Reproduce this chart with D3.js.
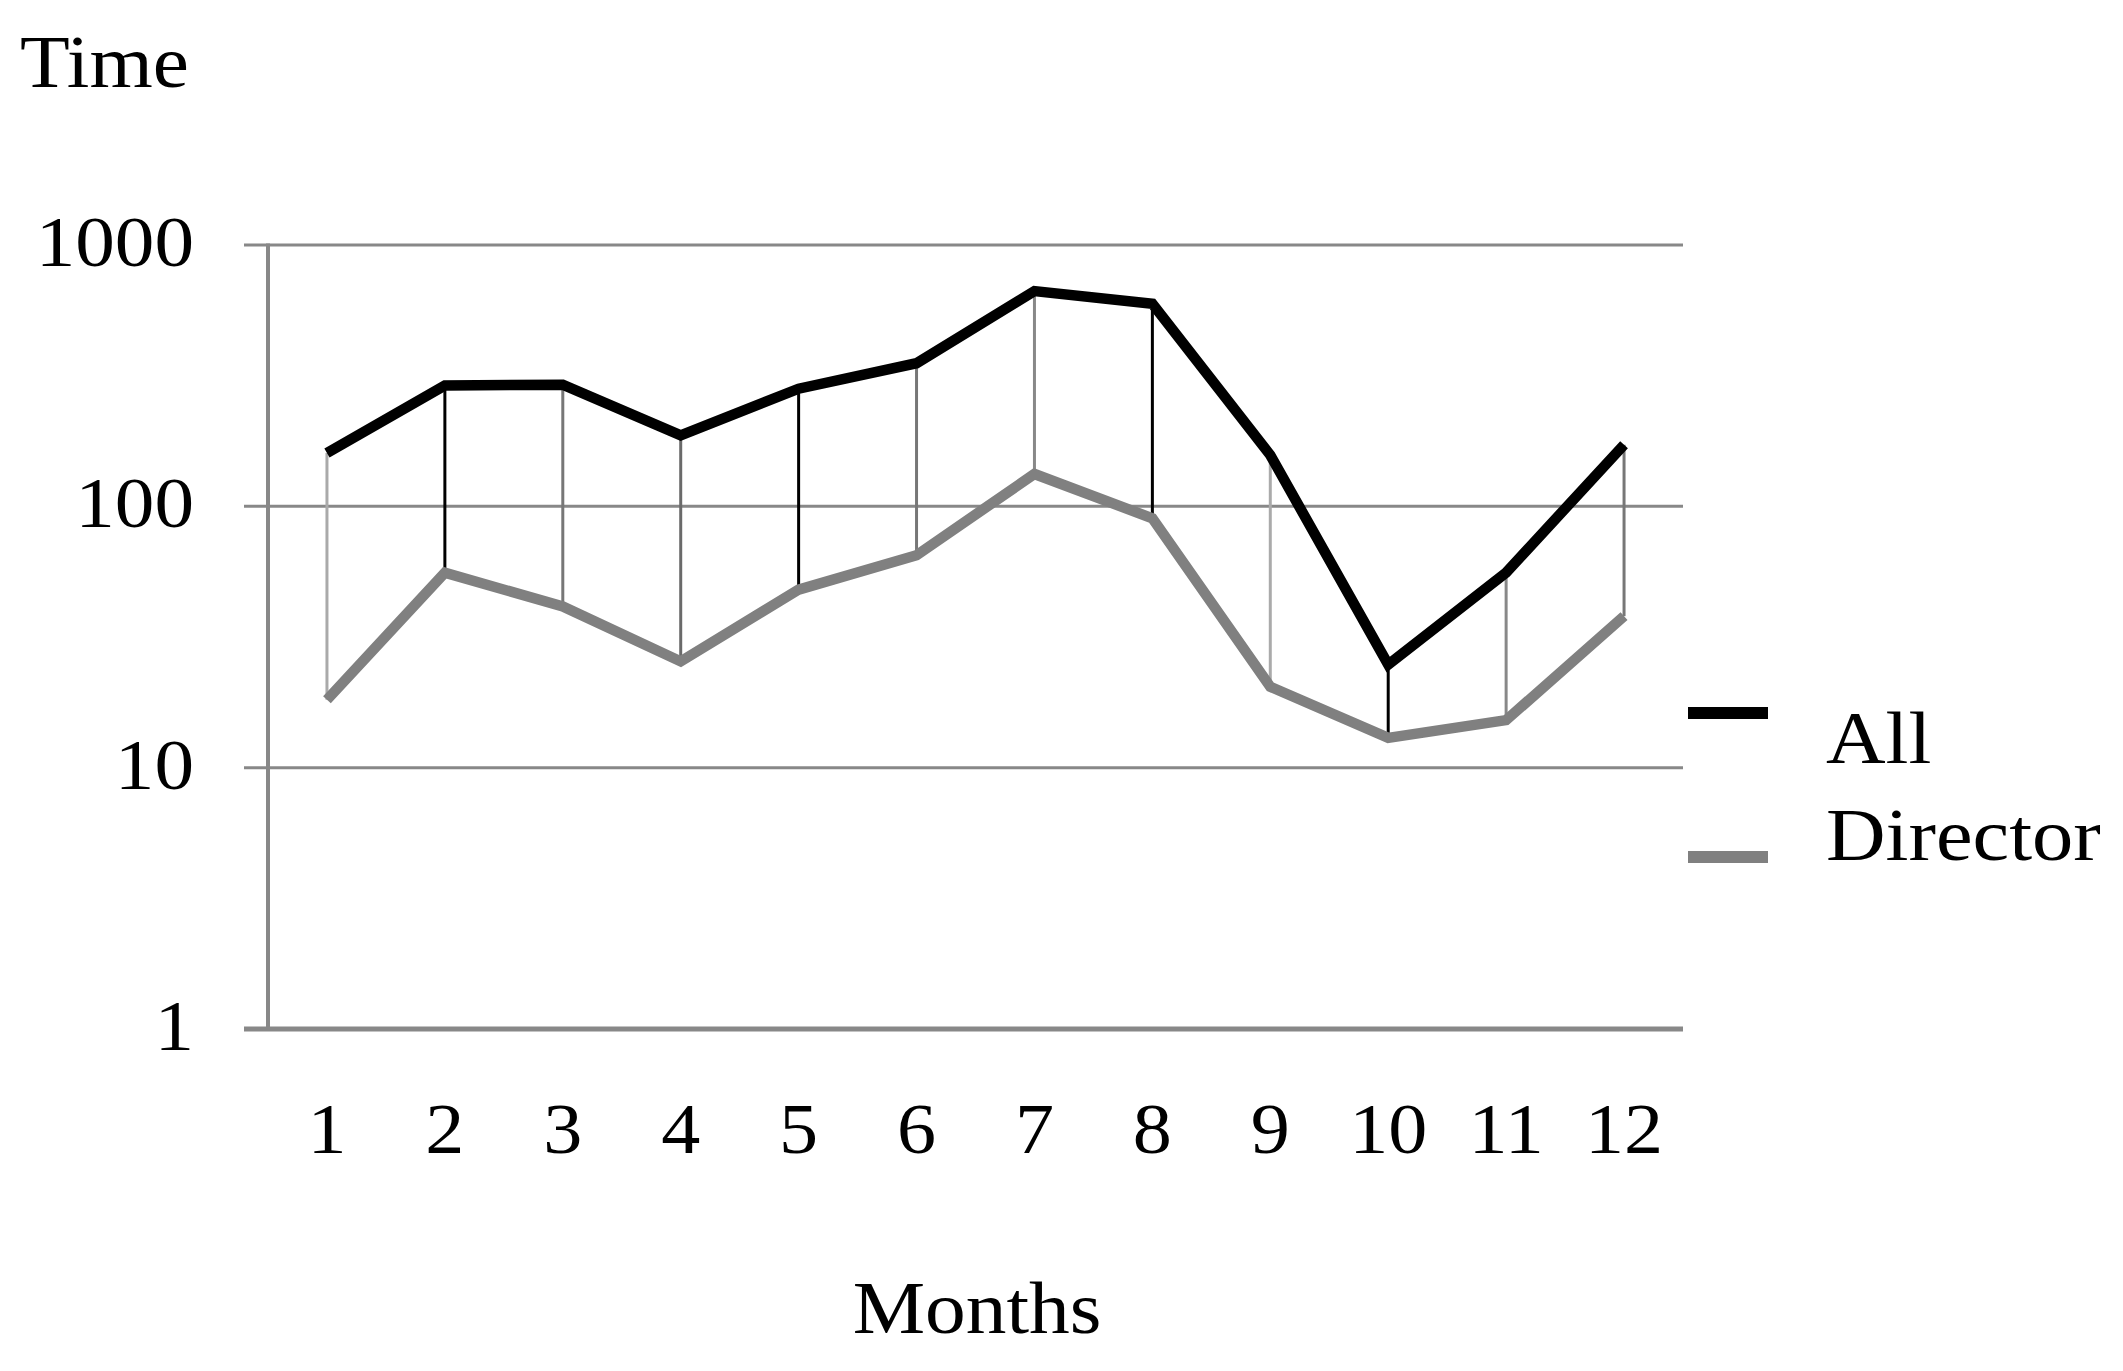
<!DOCTYPE html>
<html>
<head>
<meta charset="utf-8">
<script src="https://cdn.jsdelivr.net/npm/d3@7"></script>
<style>
  html, body { margin: 0; padding: 0; background: #fff; }
  svg { display: block; }
  text { font-family: "Liberation Serif", "Times New Roman", serif; fill: #000; }
</style>
</head>
<body>
<script>
// ---- data ----
const months = [1, 2, 3, 4, 5, 6, 7, 8, 9, 10, 11, 12];
const allValues = [160, 290, 292, 187, 282, 353, 666, 596, 157, 24.8, 55.8, 172];
const directorValues = [18.2, 55.7, 41.4, 25.5, 48, 65, 133, 90, 20.4, 13, 15.2, 38];
const yTicks = [1, 10, 100, 1000];
const seriesNames = ["All", "Director"];
// style of the high-low connector per month (anti-aliased look of original)
const dropColors = ["#aaa", "#000", "#777", "#6a6a6a", "#000", "#777", "#888", "#000", "#aaa", "#000", "#888", "#777"];

const W = 2123, H = 1371;
const SX = 1.1; // horizontal stretch of the original's typeface
const svg = d3.select("body").append("svg").attr("width", W).attr("height", H);

const plotLeft = 268, plotRight = 1683, plotTop = 245, plotBottom = 1029;
const x = d3.scaleBand().domain(months).range([plotLeft, plotRight]);
const y = d3.scaleLog().domain([1, 1000]).range([plotBottom, plotTop]);
const cx = m => x(m) + x.bandwidth() / 2;
const place = (tx, ty) => `translate(${tx},${ty}) scale(${SX},1)`;

// gridlines
svg.append("g").selectAll("line").data(yTicks.filter(t => t > 1)).join("line")
  .attr("x1", 244).attr("x2", plotRight)
  .attr("y1", d => y(d)).attr("y2", d => y(d))
  .attr("stroke", "#888").attr("stroke-width", 3);

// y axis line
svg.append("line").attr("x1", plotLeft).attr("x2", plotLeft).attr("y1", plotTop - 1.5).attr("y2", plotBottom)
  .attr("stroke", "#888").attr("stroke-width", 4);
// x axis line
svg.append("line").attr("x1", 244).attr("x2", plotRight).attr("y1", plotBottom).attr("y2", plotBottom)
  .attr("stroke", "#888").attr("stroke-width", 5);

// y tick labels
svg.append("g").selectAll("text").data(yTicks).join("text")
  .attr("transform", d => place(194, y(d) + 21))
  .attr("text-anchor", "end").attr("font-size", 72)
  .text(d => d);

// x tick labels
svg.append("g").selectAll("text").data(months).join("text")
  .attr("transform", d => place(cx(d), 1153))
  .attr("text-anchor", "middle").attr("font-size", 71)
  .text(d => d);

// axis titles
svg.append("text").attr("transform", place(20, 87)).attr("font-size", 74).text("Time");
svg.append("text").attr("transform", place(977, 1333)).attr("text-anchor", "middle").attr("font-size", 74).text("Months");

// high-low drop lines
svg.append("g").selectAll("line").data(months).join("line")
  .attr("x1", d => cx(d)).attr("x2", d => cx(d))
  .attr("y1", (d, i) => y(allValues[i])).attr("y2", (d, i) => y(directorValues[i]))
  .attr("stroke", (d, i) => dropColors[i]).attr("stroke-width", 3);

const line = d3.line().x((d, i) => cx(months[i])).y(d => y(d));

svg.append("path").datum(directorValues).attr("d", line)
  .attr("fill", "none").attr("stroke", "#808080").attr("stroke-width", 10.5)
  .attr("stroke-linejoin", "miter");
svg.append("path").datum(allValues).attr("d", line)
  .attr("fill", "none").attr("stroke", "#000").attr("stroke-width", 10.5)
  .attr("stroke-linejoin", "miter");

// legend
const legend = [
  { name: seriesNames[0], color: "#000", ly: 713, ty: 763 },
  { name: seriesNames[1], color: "#808080", ly: 857, ty: 860 }
];
const lg = svg.append("g");
lg.selectAll("line").data(legend).join("line")
  .attr("x1", 1688).attr("x2", 1768).attr("y1", d => d.ly).attr("y2", d => d.ly)
  .attr("stroke", d => d.color).attr("stroke-width", 12);
lg.selectAll("text").data(legend).join("text")
  .attr("transform", d => place(1826, d.ty)).attr("font-size", 75)
  .text(d => d.name);
</script>
</body>
</html>
